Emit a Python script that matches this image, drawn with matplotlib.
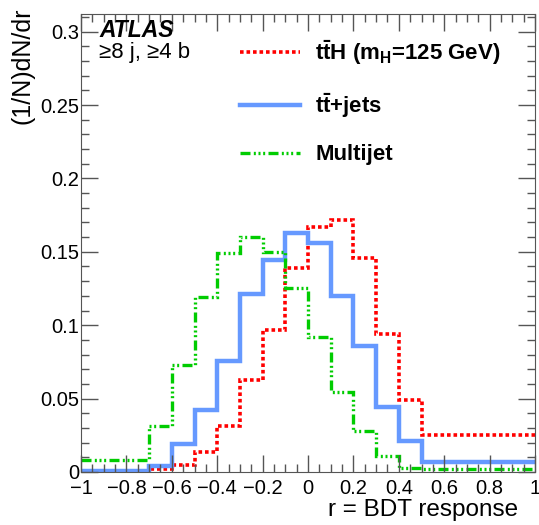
import numpy as np
import matplotlib.pyplot as plt
from matplotlib.ticker import MultipleLocator, FuncFormatter
from matplotlib.lines import Line2D

plt.rcParams['font.family'] = ['Liberation Sans', 'DejaVu Sans']
plt.rcParams['mathtext.fontset'] = 'custom'
plt.rcParams['mathtext.rm'] = 'Liberation Sans'
plt.rcParams['mathtext.bf'] = 'Liberation Sans:bold'
plt.rcParams['mathtext.it'] = 'Liberation Sans:italic'

# bin edges of the BDT response
edges = [-1, -0.7, -0.6, -0.5, -0.4, -0.3, -0.2, -0.1, 0, 0.1, 0.2, 0.3, 0.4, 0.5, 1]

tth = [0.0005, 0.002, 0.005, 0.0138, 0.031, 0.0625, 0.097, 0.139, 0.167, 0.172, 0.1455, 0.0937, 0.049, 0.025]
ttjets = [0.001, 0.004, 0.019, 0.042, 0.0753, 0.121, 0.1446, 0.1627, 0.1557, 0.120, 0.0858, 0.044, 0.021, 0.007]
multijet = [0.008, 0.031, 0.073, 0.119, 0.149, 0.160, 0.150, 0.125, 0.092, 0.0545, 0.028, 0.011, 0.003, 0.002]

labels = [r'$\mathbf{t\bar{t}H}$ (m$_\mathbf{H}$=125 GeV)', r'$\mathbf{t\bar{t}}$+jets', 'Multijet']
colors = ['#ff0000', '#6699ff', '#00cc00']

fig = plt.figure(figsize=(5.39, 5.25), dpi=100)
ax = fig.add_axes([0.1503, 0.1010, 0.8423, 0.8723])

red_ls = (0, (1.0, 0.8))
green_ls = (0, (3.0, 1.0, 0.6, 0.8, 0.6, 0.8, 0.6, 1.0))

ax.stairs(tth, edges, color=colors[0], lw=2.6, ls=red_ls, baseline=None)
ax.stairs(ttjets, edges, color=colors[1], lw=3.2, baseline=None)
ax.stairs(multijet, edges, color=colors[2], lw=2.4, ls=green_ls, baseline=None)

ax.set_xlim(-1, 1)
ax.set_ylim(0, 0.312)

def fmt(v, p):
    v = round(v, 4)
    if v == 0:
        return '0'
    return f'{v:g}'.replace('-', '\u2212')

ax.xaxis.set_major_locator(MultipleLocator(0.2))
ax.xaxis.set_minor_locator(MultipleLocator(0.05))
ax.yaxis.set_major_locator(MultipleLocator(0.05))
ax.yaxis.set_minor_locator(MultipleLocator(0.01))
ax.xaxis.set_major_formatter(FuncFormatter(fmt))
ax.yaxis.set_major_formatter(FuncFormatter(fmt))
ax.tick_params(which='both', direction='in', top=True, right=True, labelsize=14.5, color='#555555')
ax.tick_params(which='major', length=12, width=1)
ax.tick_params(which='minor', length=6, width=1)
ax.tick_params(axis='x', pad=5)
ax.tick_params(axis='y', pad=1.5)
for s in ax.spines.values():
    s.set_color('#555555')

ax.set_xlabel('r = BDT response', fontsize=17.5, ha='right', x=0.962, labelpad=1)
ax.set_ylabel('(1/N)dN/dr', fontsize=18, ha='right', y=1.015, labelpad=4)

ax.text(0.04, 0.965, 'ATLAS', transform=ax.transAxes, fontsize=16.5, fontweight='bold',
        style='italic', va='center')
ax.text(0.04, 0.915, '\u22658 j, \u22654 b', transform=ax.transAxes, fontsize=16, va='center')

hs = [Line2D([], [], color=colors[0], lw=2.6, ls=red_ls),
      Line2D([], [], color=colors[1], lw=3.2),
      Line2D([], [], color=colors[2], lw=2.4, ls=green_ls)]
ax.legend(hs, labels, loc='upper left', bbox_to_anchor=(0.35, 0.948), frameon=False,
          prop={'weight': 'bold', 'size': 16}, handlelength=2.7, labelspacing=1.1,
          handletextpad=0.7, borderaxespad=0, borderpad=0)

fig.savefig('out.png', dpi=100)
